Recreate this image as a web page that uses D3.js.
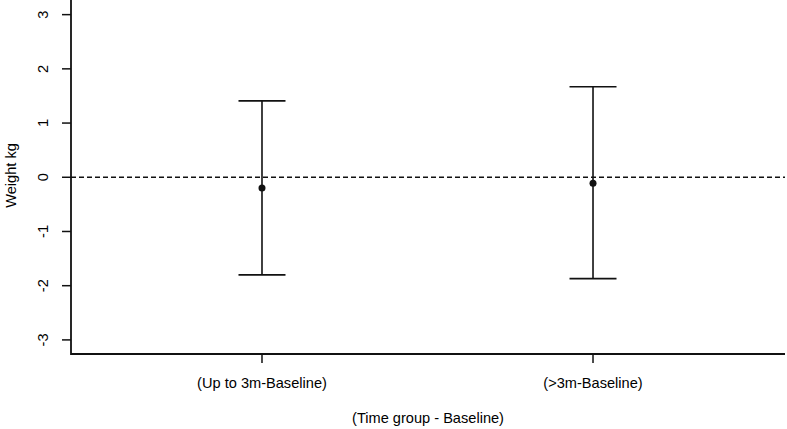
<!DOCTYPE html>
<html>
<head>
<meta charset="utf-8">
<script src="https://cdn.jsdelivr.net/npm/d3@7"></script>
<style>
  body { margin: 0; background: #fff; }
  text { font-family: Arial, "Liberation Sans", sans-serif; font-size: 14.6px; fill: #000; }
</style>
</head>
<body>
<div id="chart"></div>
<script>
// data
var groups = ['(Up to 3m-Baseline)', '(>3m-Baseline)'];
var means = [-0.20, -0.11];
var lower = [-1.80, -1.87];
var upper = [1.41, 1.67];
var yTicks = [-3, -2, -1, 0, 1, 2, 3];

var width = 787, height = 429;

var svg = d3.select('#chart')
  .append('svg')
  .attr('width', width)
  .attr('height', height);

// x position 1..n for the groups
var x = d3.scaleLinear().domain([0.423, 2.58]).range([71, 785]);
var y = d3.scaleLinear().domain([-3.26, 3.27]).range([354, 0]);

var ink = '#111';

// L shaped box
svg.append('path')
  .attr('d', 'M71,0 V' + y(-3.26) + ' H785')
  .attr('fill', 'none')
  .attr('stroke', ink)
  .attr('stroke-width', 1.8);

// y ticks
svg.selectAll('line.ytick')
  .data(yTicks)
  .enter()
  .append('line')
  .attr('class', 'ytick')
  .attr('x1', 62).attr('x2', 71)
  .attr('y1', function(d){ return y(d); })
  .attr('y2', function(d){ return y(d); })
  .attr('stroke', ink)
  .attr('stroke-width', 1.5);

svg.selectAll('text.ylab')
  .data(yTicks)
  .enter()
  .append('text')
  .attr('class', 'ylab')
  .attr('text-anchor', 'middle')
  .attr('transform', function(d){ return 'translate(47.5,' + y(d) + ') rotate(-90)'; })
  .text(function(d){ return d; });

// x ticks
svg.selectAll('line.xtick')
  .data(groups)
  .enter()
  .append('line')
  .attr('class', 'xtick')
  .attr('x1', function(d,i){ return x(i+1); })
  .attr('x2', function(d,i){ return x(i+1); })
  .attr('y1', y(-3.26)).attr('y2', 363)
  .attr('stroke', ink)
  .attr('stroke-width', 1.5);

svg.selectAll('text.xlab')
  .data(groups)
  .enter()
  .append('text')
  .attr('class', 'xlab')
  .attr('text-anchor', 'middle')
  .attr('x', function(d,i){ return x(i+1); })
  .attr('y', 388)
  .text(function(d){ return d; });

// axis titles
svg.append('text')
  .attr('text-anchor', 'middle')
  .attr('x', (x.range()[0] + x.range()[1]) / 2)
  .attr('y', 423)
  .text('(Time group - Baseline)');

svg.append('text')
  .attr('text-anchor', 'middle')
  .attr('transform', 'translate(15.5,175.5) rotate(-90)')
  .text('Weight kg');

// reference line at zero
svg.append('line')
  .attr('x1', 71).attr('x2', 785)
  .attr('y1', y(0)).attr('y2', y(0))
  .attr('stroke', ink)
  .attr('stroke-width', 1.5)
  .attr('stroke-dasharray', '5,3');

// error bars
var capW = 23.5;
var bars = svg.selectAll('g.bar')
  .data(groups)
  .enter()
  .append('g')
  .attr('class', 'bar');

bars.append('line')
  .attr('x1', function(d,i){ return x(i+1); })
  .attr('x2', function(d,i){ return x(i+1); })
  .attr('y1', function(d,i){ return y(upper[i]); })
  .attr('y2', function(d,i){ return y(lower[i]); })
  .attr('stroke', ink).attr('stroke-width', 1.6);

bars.append('line')
  .attr('x1', function(d,i){ return x(i+1) - capW; })
  .attr('x2', function(d,i){ return x(i+1) + capW; })
  .attr('y1', function(d,i){ return y(upper[i]); })
  .attr('y2', function(d,i){ return y(upper[i]); })
  .attr('stroke', ink).attr('stroke-width', 1.6);

bars.append('line')
  .attr('x1', function(d,i){ return x(i+1) - capW; })
  .attr('x2', function(d,i){ return x(i+1) + capW; })
  .attr('y1', function(d,i){ return y(lower[i]); })
  .attr('y2', function(d,i){ return y(lower[i]); })
  .attr('stroke', ink).attr('stroke-width', 1.6);

bars.append('circle')
  .attr('cx', function(d,i){ return x(i+1); })
  .attr('cy', function(d,i){ return y(means[i]); })
  .attr('r', 3.5)
  .attr('fill', ink);
</script>
</body>
</html>
